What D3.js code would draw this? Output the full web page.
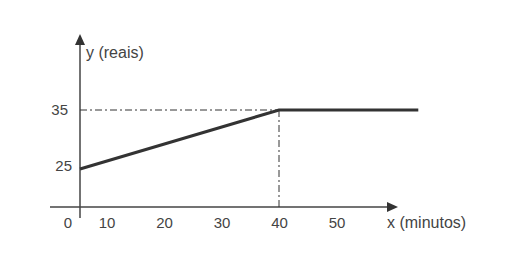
<!DOCTYPE html>
<html>
<head>
<meta charset="utf-8">
<script src="https://cdn.jsdelivr.net/npm/d3@7"></script>
<style>
  body { margin: 0; background: #fff; }
  text { font-family: "Liberation Sans", Arial, sans-serif; fill: #444; }
</style>
</head>
<body>
<svg id="chart" width="529" height="278"></svg>
<script>
// data
var minutes = [0, 40, 68];
var reais = [25, 35, 35];
var xTickValues = [0, 10, 20, 30, 40, 50];
var yTickValues = [25, 35];
var xTitle = "x (minutos)";
var yTitle = "y (reais)";

var svg = d3.select("#chart");

// data scales (the drawing is schematic, axes are broken)
var x = d3.scaleLinear().domain([0, 40]).range([80, 279]);
var y = d3.scaleLinear().domain([25, 35]).range([169, 110]);
// tick labels are spaced on their own in the original
var xLab = d3.scaleLinear().domain([10, 50]).range([107, 337]);

var axisY = 207;

// axes
svg.append("line")
    .attr("x1", 50).attr("y1", axisY)
    .attr("x2", 390).attr("y2", axisY)
    .attr("stroke", "#444").attr("stroke-width", 1.5);
svg.append("path")
    .attr("d", "M398," + axisY + " L387," + (axisY - 5) + " L387," + (axisY + 5) + "Z")
    .attr("fill", "#333");

svg.append("line")
    .attr("x1", x(0)).attr("y1", 218)
    .attr("x2", x(0)).attr("y2", 42)
    .attr("stroke", "#444").attr("stroke-width", 1.5);
svg.append("path")
    .attr("d", "M" + x(0) + ",34 L" + (x(0) - 5) + ",45 L" + (x(0) + 5) + ",45Z")
    .attr("fill", "#333");

// guide lines
svg.append("line")
    .attr("x1", x(0)).attr("y1", y(35))
    .attr("x2", x(40)).attr("y2", y(35))
    .attr("stroke", "#333").attr("stroke-width", 1)
    .attr("stroke-dasharray", "7,3,2,3");
svg.append("line")
    .attr("x1", x(40)).attr("y1", y(35))
    .attr("x2", x(40)).attr("y2", axisY)
    .attr("stroke", "#333").attr("stroke-width", 1)
    .attr("stroke-dasharray", "7,3,2,3");

// cost line
var pts = minutes.map(function(m, i) { return [m, reais[i]]; });
svg.append("path")
    .datum(pts)
    .attr("fill", "none")
    .attr("stroke", "#333")
    .attr("stroke-width", 3)
    .attr("stroke-linejoin", "miter")
    .attr("d", d3.line().x(d => x(d[0])).y(d => y(d[1])));

// tick labels
svg.selectAll(".xl")
    .data(xTickValues)
    .enter()
    .append("text")
    .attr("class", "xl")
    .attr("x", d => d == 0 ? x(0) - 12 : xLab(d))
    .attr("y", 228)
    .attr("text-anchor", "middle")
    .style("font-size", "15px")
    .text(d => d);

svg.selectAll(".yl")
    .data(yTickValues)
    .enter()
    .append("text")
    .attr("class", "yl")
    .attr("x", d => d == 25 ? 72 : 68)
    .attr("y", d => y(d) + (d == 25 ? 2 : 5))
    .attr("text-anchor", "end")
    .style("font-size", "15px")
    .text(d => d);

// titles
svg.append("text")
    .attr("x", 86).attr("y", 58)
    .style("font-size", "16px")
    .text(yTitle);
svg.append("text")
    .attr("x", 387).attr("y", 228)
    .style("font-size", "16px")
    .text(xTitle);
</script>
</body>
</html>
